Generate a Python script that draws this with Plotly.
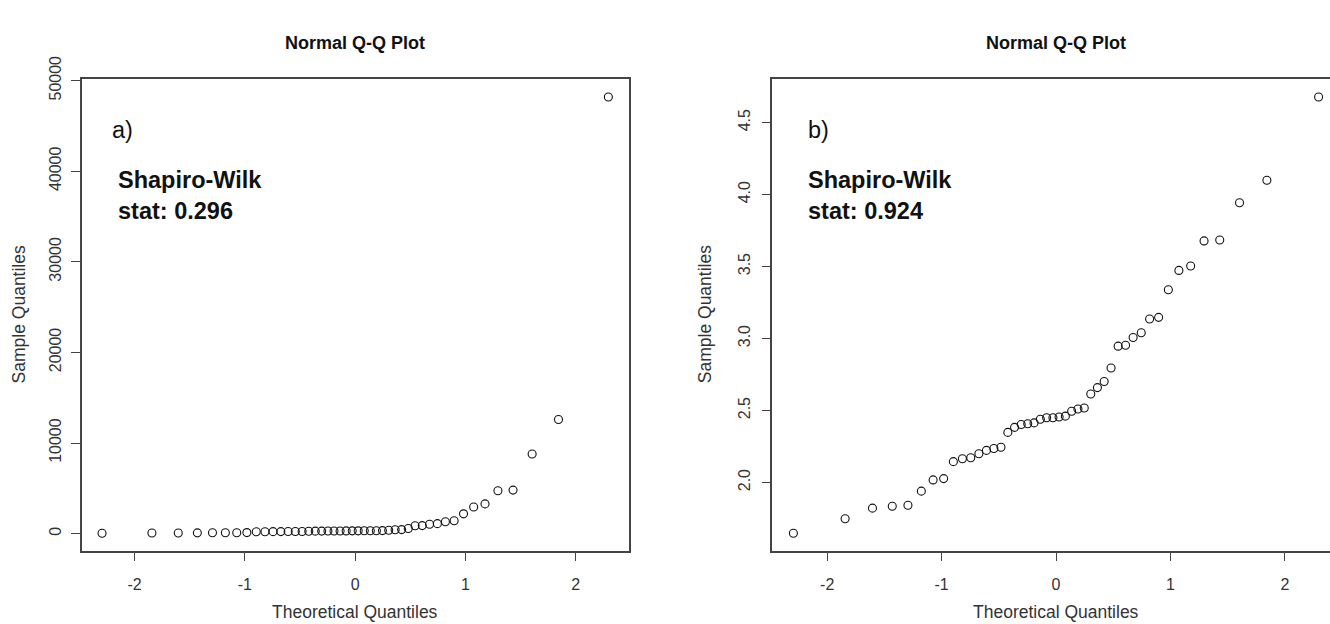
import plotly.graph_objects as go

# Theoretical normal quantiles (x positions, n = 46)
theoretical_q = [-2.295, -1.843, -1.604, -1.431, -1.294, -1.177, -1.074, -0.982,
                 -0.897, -0.818, -0.745, -0.674, -0.608, -0.543, -0.481, -0.421,
                 -0.362, -0.304, -0.247, -0.192, -0.137, -0.082, -0.027,
                 0.027, 0.082, 0.137, 0.192, 0.247, 0.304, 0.362, 0.421, 0.481,
                 0.543, 0.608, 0.674, 0.745, 0.818, 0.897, 0.982, 1.074, 1.177,
                 1.294, 1.431, 1.604, 1.843, 2.295]

# Panel a) sample quantiles (raw values)
sample_a = [45, 60, 70, 80, 90, 95, 100, 110,
            200, 210, 215, 220, 225, 230, 235, 260,
            270, 275, 280, 285, 290, 295, 300,
            305, 310, 315, 320, 330, 370, 420, 440, 570,
            860, 880, 1030, 1100, 1300, 1420, 2180, 2930, 3280,
            4730, 4800, 8790, 12600, 48200]

# Panel b) sample quantiles (log-transformed values)
sample_b = [1.648, 1.748, 1.822, 1.835, 1.842, 1.940, 2.018, 2.027,
            2.145, 2.165, 2.172, 2.200, 2.223, 2.236, 2.245, 2.348,
            2.383, 2.403, 2.408, 2.414, 2.439, 2.450, 2.450,
            2.455, 2.461, 2.495, 2.510, 2.517, 2.615, 2.659, 2.702, 2.795,
            2.947, 2.953, 3.007, 3.040, 3.136, 3.147, 3.339, 3.473, 3.504,
            3.678, 3.684, 3.943, 4.099, 4.678]

x_ticks = [-2, -1, 0, 1, 2]
x_ticktext = ["-2", "-1", "0", "1", "2"]
ya_ticks = [0, 10000, 20000, 30000, 40000, 50000]
ya_ticktext = ["0", "10000", "20000", "30000", "40000", "50000"]
yb_ticks = [2.0, 2.5, 3.0, 3.5, 4.0, 4.5]
yb_ticktext = ["2.0", "2.5", "3.0", "3.5", "4.0", "4.5"]

panel_labels = ["a)", "b)"]
sw_stats = ["0.296", "0.924"]


def padded(vals):
    lo, hi = min(vals), max(vals)
    span = hi - lo
    return [lo - 0.04 * span, hi + 0.04 * span]


FONT = "Liberation Sans, Arial, sans-serif"
W, H = 1330, 624


def px(x):
    return x / W


def py(y):
    return 1 - y / H


# pixel geometry of the two frames (right frame is cut by the page edge)
left_a, right_a = 81.8, 628.6
left_b, right_b_full = 772.4, 1339.6
top_px, bot_px = 57.7, 547.7
ydom = [py(bot_px), py(top_px)]

xr_full = padded(theoretical_q)
vis = (W - left_b) / (right_b_full - left_b)
xr_b = [xr_full[0], xr_full[0] + vis * (xr_full[1] - xr_full[0])]

fig = go.Figure()
marker = dict(symbol="circle-open", size=8, color="#111", line=dict(width=1.1, color="#111"))
fig.add_trace(go.Scatter(x=theoretical_q, y=sample_a, mode="markers", marker=marker,
                         xaxis="x", yaxis="y", showlegend=False, cliponaxis=False))
fig.add_trace(go.Scatter(x=theoretical_q, y=sample_b, mode="markers", marker=marker,
                         xaxis="x2", yaxis="y2", showlegend=False, cliponaxis=False))

ax_common = dict(showgrid=False, zeroline=False, showline=True,
                 linecolor="#444", linewidth=1.5, ticks="outside", ticklen=9,
                 tickwidth=1.2, tickcolor="#444",
                 tickfont=dict(family=FONT, size=16, color="#333"))

fig.update_layout(
    width=W, height=H,
    margin=dict(l=0, r=0, t=0, b=0),
    paper_bgcolor="white", plot_bgcolor="white",
    xaxis=dict(domain=[px(left_a), px(right_a)], range=xr_full,
               tickvals=x_ticks, ticktext=x_ticktext, ticklabelstandoff=9,
               anchor="y", mirror=True, **ax_common),
    yaxis=dict(domain=ydom, range=padded(sample_a), tickvals=ya_ticks,
               ticktext=ya_ticktext, tickangle=-90, ticklabelstandoff=4,
               anchor="x", mirror=True, **ax_common),
    xaxis2=dict(domain=[px(left_b), 1.0], range=xr_b,
                tickvals=x_ticks, ticktext=x_ticktext, ticklabelstandoff=9,
                anchor="y2", mirror=True, **ax_common),
    yaxis2=dict(domain=ydom, range=padded(sample_b), tickvals=yb_ticks,
                ticktext=yb_ticktext, tickangle=-90, ticklabelstandoff=5,
                anchor="x2", mirror=False, **ax_common),
)

ann = []
# (frame centre x, y-title x, panel-label x, text-block x)
panels = [((left_a + right_a) / 2, 19.0, 110.3, 115.7),
          ((left_b + right_b_full) / 2, 705.8, 805.5, 805.5)]
for i, (cx, ytx, lab_x, txt_x) in enumerate(panels):
    ann.append(dict(text="<b>Normal Q-Q Plot</b>", xref="paper", yref="paper",
                    x=px(cx), y=py(20), xanchor="center", yanchor="middle",
                    showarrow=False, font=dict(family=FONT, size=18, color="#111")))
    ann.append(dict(text="Theoretical Quantiles", xref="paper", yref="paper",
                    x=px(cx), y=py(612), xanchor="center", yanchor="middle",
                    showarrow=False, font=dict(family=FONT, size=17.5, color="#333")))
    ann.append(dict(text="Sample Quantiles", xref="paper", yref="paper",
                    x=px(ytx), y=py(302), xanchor="center", yanchor="middle",
                    textangle=-90, showarrow=False,
                    font=dict(family=FONT, size=17.5, color="#333")))
    ann.append(dict(text=panel_labels[i], xref="paper", yref="paper",
                    x=px(lab_x), y=py(110.5), xanchor="left", yanchor="middle",
                    showarrow=False, font=dict(family=FONT, size=23.5, color="#111")))
    ann.append(dict(text="<b>Shapiro-Wilk</b>", xref="paper", yref="paper",
                    x=px(txt_x), y=py(162.5), xanchor="left", yanchor="middle",
                    showarrow=False, font=dict(family=FONT, size=23.5, color="#111")))
    ann.append(dict(text="<b>stat: " + sw_stats[i] + "</b>", xref="paper", yref="paper",
                    x=px(txt_x), y=py(194), xanchor="left", yanchor="middle",
                    showarrow=False, font=dict(family=FONT, size=23.5, color="#111")))

fig.update_layout(annotations=ann)
fig.write_html("out.html")
